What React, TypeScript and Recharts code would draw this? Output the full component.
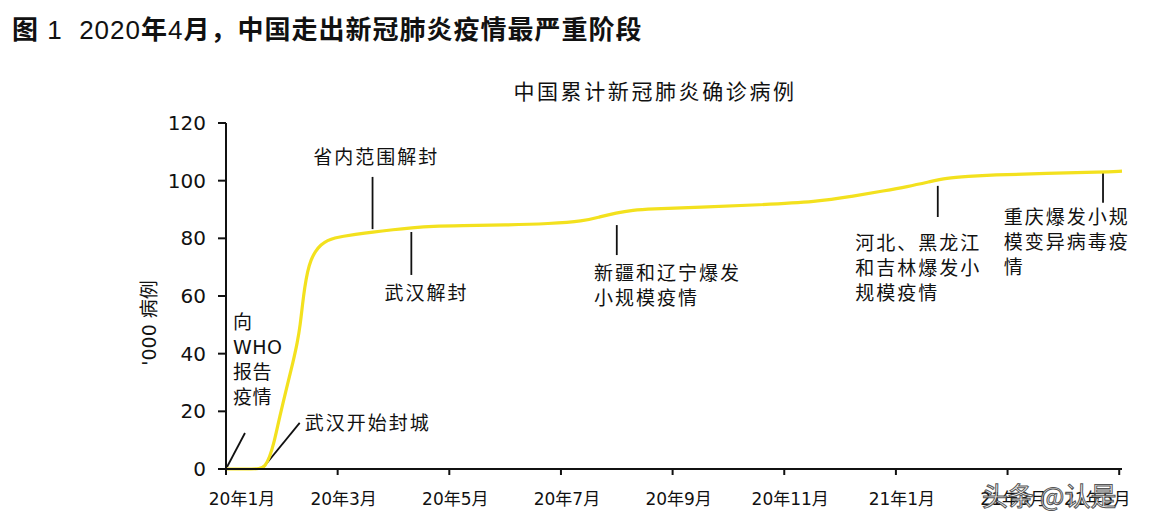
import React from 'react';
import { LineChart, Line, XAxis, YAxis, ReferenceLine, ReferenceDot } from 'recharts';

// months since Jan 2020
const months = [0, 0.33, 0.62, 0.7, 0.78, 0.86, 0.96, 1.09, 1.2, 1.28, 1.33, 1.37, 1.41, 1.46, 1.52, 1.6, 1.7, 1.82, 1.95, 2.1, 2.3, 2.625, 3.0, 3.32, 3.7, 4.2, 5.0, 5.8, 6.4, 6.7, 6.98, 7.3, 7.57, 8.5, 9.54, 10.6, 11.2, 11.8, 12.2, 12.6, 12.9, 13.3, 13.7, 14.7, 15.7, 16.05];
// cumulative confirmed cases, thousands
const cases = [0, 0, 0, 1, 4, 9, 18, 28.4, 37, 44, 50, 57, 63, 68.5, 72.5, 75.5, 77.8, 79.3, 80.2, 80.7, 81.3, 82.2, 83, 83.6, 84.2, 84.4, 84.6, 85.1, 85.9, 87.5, 88.8, 89.8, 90.2, 90.8, 91.6, 92.7, 94.5, 96.5, 97.9, 99.6, 100.9, 101.5, 102, 102.5, 103, 103.3];

const xTicks = [0, 2, 4, 6, 8, 10, 12, 14, 16];
const xLabels = ['20年1月', '20年3月', '20年5月', '20年7月', '20年9月', '20年11月', '21年1月', '21年3月', '21年5月'];
const yTicks = [0, 20, 40, 60, 80, 100, 120];

const annoLines = [
  { x1: 0.018, y1: 0.7, x2: 0.34, y2: 12.5 },
  { x1: 0.66, y1: 0.35, x2: 1.32, y2: 16 },
  { x1: 2.625, y1: 101.3, x2: 2.625, y2: 83.2 },
  { x1: 3.32, y1: 82.2, x2: 3.32, y2: 67.3 },
  { x1: 7.0, y1: 84.6, x2: 7.0, y2: 74.2 },
  { x1: 12.75, y1: 98.2, x2: 12.75, y2: 87.4 },
  { x1: 15.71, y1: 102.7, x2: 15.71, y2: 92.3 },
];

const annoTexts = [
  { x: 0.125, y: 51, anchor: 'start', spacing: 0.5, lines: ['向', 'WHO', '报告', '疫情'] },
  { x: 1.41, y: 16, anchor: 'start', spacing: 2, lines: ['武汉开始封城'] },
  { x: 2.69, y: 108.2, anchor: 'middle', spacing: 2, lines: ['省内范围解封'] },
  { x: 2.84, y: 61, anchor: 'start', spacing: 2, lines: ['武汉解封'] },
  { x: 6.59, y: 68, anchor: 'start', spacing: 2, lines: ['新疆和辽宁爆发', '小规模疫情'] },
  { x: 11.27, y: 78.4, anchor: 'start', spacing: 2, lines: ['河北、黑龙江', '和吉林爆发小', '规模疫情'] },
  { x: 13.93, y: 87.4, anchor: 'start', spacing: 2, lines: ['重庆爆发小规', '模变异病毒疫', '情'] },
];

const data = months.map((m, i) => ({ m, v: cases[i] }));

const CJK = "'Noto Sans CJK SC', sans-serif";

const XTick = (props: any) => {
  const { x, y, index } = props;
  const dx = index === 0 ? 16 : index === xTicks.length - 1 ? -22 : 6;
  return (
    <text x={x + dx} y={y + 22} textAnchor="middle" dominantBaseline="central" fontSize={17} fill="#111" fontFamily={"'DejaVu Sans', 'Noto Sans CJK SC'"}>
      {xLabels[index]}
    </text>
  );
};

const YTick = (props: any) => {
  const { x, y, payload } = props;
  return (
    <text x={x} y={y} textAnchor="end" dominantBaseline="central" fontSize={20} fill="#111" fontFamily="'DejaVu Sans', sans-serif">
      {payload.value}
    </text>
  );
};

export default function App() {
  return (
    <div style={{ position: 'absolute', left: 0, top: 0, width: 1150, height: 524, background: '#fff', overflow: 'hidden' }}>
      <div style={{ position: 'absolute', left: 12, top: 9, fontSize: 26, color: '#111', whiteSpace: 'nowrap', fontFamily: "'Liberation Sans', 'Noto Sans CJK SC', sans-serif", letterSpacing: 1 }}>
        <span style={{ fontWeight: 700, fontFamily: CJK }}>图</span>
        <span> 1&nbsp; 2020</span>
        <span style={{ fontWeight: 700, fontFamily: CJK }}>年</span>
        <span>4</span>
        <span style={{ fontWeight: 700, fontFamily: CJK }}>月，中国走出新冠肺炎疫情最严重阶段</span>
      </div>
      <div style={{ position: 'absolute', left: 0, width: 1310, top: 75, textAlign: 'center', fontSize: 21, letterSpacing: 2.6, color: '#111', fontFamily: CJK }}>
        中国累计新冠肺炎确诊病例
      </div>
      <div style={{ position: 'absolute', left: 147, top: 323, transform: 'translate(-50%, -50%) rotate(-90deg)', fontSize: 19, color: '#111', whiteSpace: 'nowrap', fontFamily: "'DejaVu Sans', 'Noto Sans CJK SC'" }}>
        '000 病例
      </div>
      <div style={{ position: 'absolute', left: 0, top: 0 }}>
        <LineChart width={1150} height={524} data={data} margin={{ top: 123, right: 28, left: 0, bottom: 0 }}>
          <XAxis
            dataKey="m"
            type="number"
            domain={[0, 16]}
            ticks={xTicks}
            height={55}
            tickSize={6}
            tick={<XTick />}
            axisLine={{ stroke: '#111', strokeWidth: 2 }}
            tickLine={{ stroke: '#111', strokeWidth: 2 }}
            interval={0}
          />
          <YAxis
            type="number"
            domain={[0, 120]}
            ticks={yTicks}
            width={226}
            tickSize={8}
            tickMargin={12}
            tick={<YTick />}
            axisLine={{ stroke: '#111', strokeWidth: 2 }}
            tickLine={{ stroke: '#111', strokeWidth: 2 }}
            interval={0}
          />
          {annoLines.map((a, i) => (
            <ReferenceLine
              key={'l' + i}
              segment={[{ x: a.x1, y: a.y1 }, { x: a.x2, y: a.y2 }]}
              stroke="#111"
              strokeWidth={1.8}
              ifOverflow="visible"
            />
          ))}
          <Line type="basis" dataKey="v" stroke="#F3E11E" strokeWidth={3.2} dot={false} isAnimationActive={false} />
          {annoTexts.map((a, i) => (
            <ReferenceDot
              key={'t' + i}
              x={a.x}
              y={a.y}
              r={1}
              ifOverflow="visible"
              shape={(p: any) => (
                <text x={p.cx} y={p.cy} textAnchor={a.anchor as any} dominantBaseline="central" fontSize={19} letterSpacing={a.spacing} fill="#111" fontFamily={"'DejaVu Sans', 'Noto Sans CJK SC'"}>
                  {a.lines.map((l, j) => (
                    <tspan key={j} x={p.cx} dy={j === 0 ? 0 : 25}>{l}</tspan>
                  ))}
                </text>
              )}
            />
          ))}
        </LineChart>
      </div>
      <div style={{ position: 'absolute', left: 982, top: 476, fontSize: 26, color: '#fff', whiteSpace: 'nowrap', fontFamily: CJK, WebkitTextStroke: '1px #444', opacity: 0.9 }}>
        头条 @认是
      </div>
    </div>
  );
}
